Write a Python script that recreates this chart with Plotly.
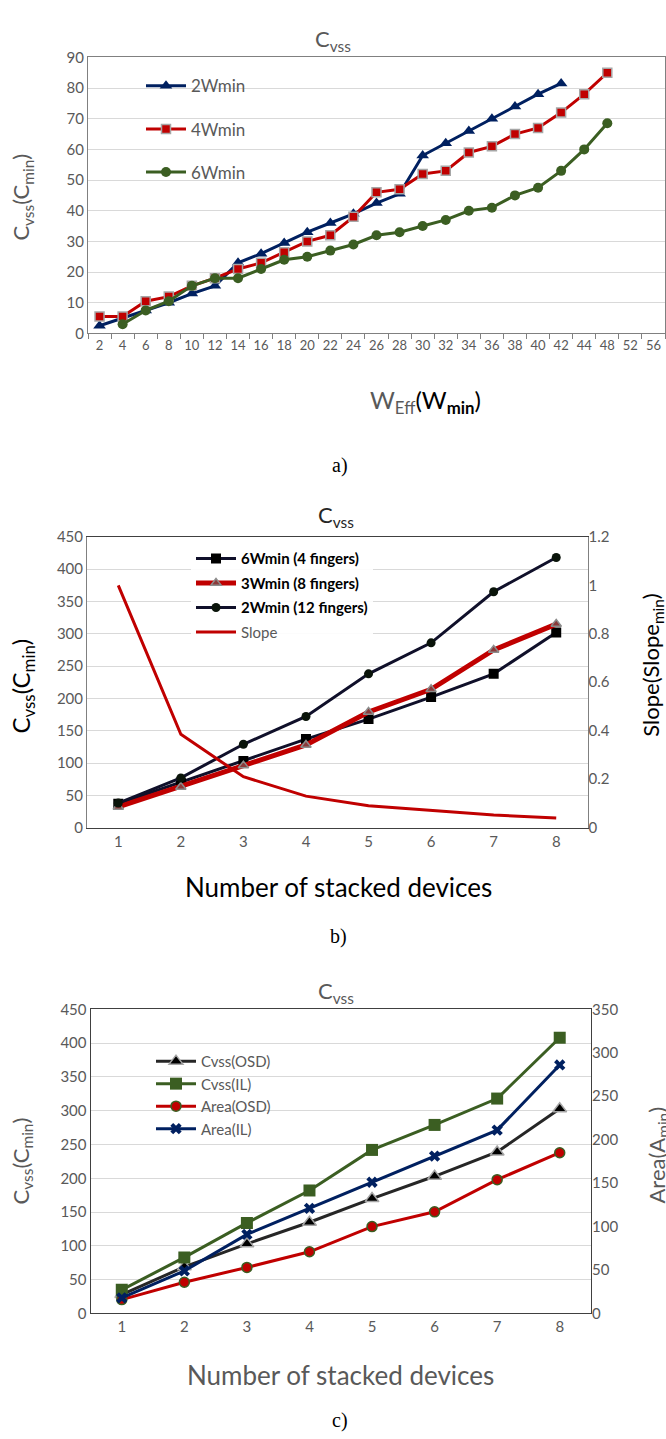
import plotly.graph_objects as go

# ---------------- data ----------------
# (a)
a_cats = ["2", "4", "6", "8", "10", "12", "14", "16", "18", "20", "22", "24", "26",
          "28", "30", "32", "34", "36", "38", "40", "42", "44", "48", "52", "56"]
a_2w_x = a_cats[0:21]
a_2w = [2.5, 5, 7.5, 10, 13, 15.5, 23, 26, 29.5, 33, 36, 39, 42.5, 45.5, 58, 62, 66, 70, 74, 78, 81.5]
a_4w_x = a_cats[0:23]
a_4w = [5.5, 5.5, 10.5, 12, 15.5, 18, 21, 23, 26.5, 30, 32, 38, 46, 47, 52, 53, 59, 61, 65, 67, 72, 78, 85]
a_6w_x = a_cats[1:23]
a_6w = [3, 7.5, 10.5, 15.5, 18, 18, 21, 24, 25, 27, 29, 32, 33, 35, 37, 40, 41, 45, 47.5, 53, 60, 68.5]

# (b)
b_x = ["1", "2", "3", "4", "5", "6", "7", "8"]
b_6w = [37, 70, 103, 137, 168, 202, 238, 302]
b_3w = [32, 63, 96, 128, 179, 214, 275, 315]
b_2w = [38, 77, 129, 172, 238, 286, 365, 418]
b_slope = [1.0, 0.385, 0.21, 0.13, 0.09, 0.07, 0.052, 0.04]

# (c)
c_x = ["1", "2", "3", "4", "5", "6", "7", "8"]
c_cvss_osd = [28, 69, 103, 135, 170, 203, 239, 303]
c_cvss_il = [35, 83, 134, 182, 242, 279, 318, 408]
c_area_osd = [16, 36, 53, 71, 100, 117, 154, 185]
c_area_il = [18, 49, 91, 121, 151, 181, 211, 286]

W, H = 666, 1439
FONT = "Lato"
GRAY = "#595959"
GRID = "#d9d9d9"


def px(x):
    return x / W


def py(y):
    return 1 - y / H


fig = go.Figure()

# ---------------- (a) traces ----------------
fig.add_trace(go.Scatter(x=a_2w_x, y=a_2w, name="2Wmin", mode="lines+markers",
                         line=dict(color="#002060", width=3),
                         marker=dict(symbol="triangle-up", size=11, color="#002060"),
                         xaxis="x", yaxis="y", legend="legend", legendgroup="a1"))
fig.add_trace(go.Scatter(x=a_4w_x, y=a_4w, name="4Wmin", mode="lines+markers",
                         line=dict(color="#c00000", width=3),
                         marker=dict(symbol="square", size=9, color="#c00000",
                                     line=dict(color="#a6a6a6", width=1.5)),
                         xaxis="x", yaxis="y", legend="legend", legendgroup="a2"))
fig.add_trace(go.Scatter(x=a_6w_x, y=a_6w, name="6Wmin", mode="lines+markers",
                         line=dict(color="#3b5e22", width=3),
                         marker=dict(symbol="circle", size=10, color="#3b5e22"),
                         xaxis="x", yaxis="y", legend="legend", legendgroup="a3"))

# ---------------- (b) traces ----------------
fig.add_trace(go.Scatter(x=b_x, y=b_6w, name="<b>6Wmin (4 fingers)</b>", mode="lines+markers",
                         line=dict(color="#10102a", width=3),
                         marker=dict(symbol="square", size=10, color="#000000"),
                         xaxis="x2", yaxis="y3", legend="legend2", legendgroup="b1"))
fig.add_trace(go.Scatter(x=b_x, y=b_3w, name="<b>3Wmin (8 fingers)</b>", mode="lines+markers",
                         line=dict(color="#c00000", width=5),
                         marker=dict(symbol="triangle-up", size=9, color="#8b3a3a",
                                     line=dict(color="#8c8c8c", width=1.5)),
                         xaxis="x2", yaxis="y3", legend="legend2", legendgroup="b2"))
fig.add_trace(go.Scatter(x=b_x, y=b_2w, name="<b>2Wmin (12 fingers)</b>", mode="lines+markers",
                         line=dict(color="#10102a", width=3),
                         marker=dict(symbol="circle", size=9, color="#0a140a"),
                         xaxis="x2", yaxis="y3", legend="legend2", legendgroup="b3"))
fig.add_trace(go.Scatter(x=b_x, y=b_slope, name="<span style='color:#595959'>Slope</span>",
                         mode="lines",
                         line=dict(color="#c00000", width=3),
                         xaxis="x2", yaxis="y4", legend="legend2", legendgroup="b4"))

# ---------------- (c) traces ----------------
fig.add_trace(go.Scatter(x=c_x, y=c_cvss_osd, name="Cvss(OSD)", mode="lines+markers",
                         line=dict(color="#262626", width=3),
                         marker=dict(symbol="triangle-up", size=12, color="#000000",
                                     line=dict(color="#a6a6a6", width=1.5)),
                         xaxis="x3", yaxis="y5", legend="legend3", legendgroup="c1"))
fig.add_trace(go.Scatter(x=c_x, y=c_cvss_il, name="Cvss(IL)", mode="lines+markers",
                         line=dict(color="#3b5e22", width=3),
                         marker=dict(symbol="square", size=12, color="#3b5e22"),
                         xaxis="x3", yaxis="y5", legend="legend3", legendgroup="c2"))
fig.add_trace(go.Scatter(x=c_x, y=c_area_osd, name="Area(OSD)", mode="lines+markers",
                         line=dict(color="#c00000", width=3),
                         marker=dict(symbol="circle", size=10, color="#c00000",
                                     line=dict(color="#3b5e22", width=1.5)),
                         xaxis="x3", yaxis="y6", legend="legend3", legendgroup="c3"))
fig.add_trace(go.Scatter(x=c_x, y=c_area_il, name="Area(IL)", mode="lines+markers",
                         line=dict(color="#002060", width=3),
                         marker=dict(symbol="x", size=10, color="#002060"),
                         xaxis="x3", yaxis="y6", legend="legend3", legendgroup="c4"))

tick_font = dict(family=FONT, size=15, color=GRAY)

fig.update_layout(
    width=W, height=H,
    margin=dict(l=0, r=0, t=0, b=0),
    paper_bgcolor="white", plot_bgcolor="white",
    font=dict(family=FONT, color=GRAY),
    # ---- (a) axes ----
    xaxis=dict(domain=[px(88), px(665)], anchor="y", type="category",
               categoryorder="array", categoryarray=a_cats, range=[-0.5, 24.5],
               showline=True, linecolor="#808080", linewidth=1, mirror=True,
               ticks="outside", tickson="boundaries", ticklen=5, tickcolor="#808080",
               tickangle=0,
               tickfont=dict(family=FONT, size=13, color=GRAY), showgrid=False),
    yaxis=dict(domain=[py(327.5), py(48)], anchor="x", range=[0, 90], dtick=10,
               showline=True, linecolor="#808080", linewidth=1, mirror=True,
               gridcolor=GRID, gridwidth=1, tickfont=tick_font, zeroline=False),
    # ---- (b) axes ----
    xaxis2=dict(domain=[px(87), px(587.5)], anchor="y3", type="category",
                categoryorder="array", categoryarray=b_x, range=[-0.5, 7.5],
                showline=True, linecolor="#404040", linewidth=1, mirror=True,
                ticks="", tickangle=0, tickfont=tick_font, showgrid=False),
    yaxis3=dict(domain=[py(828), py(533.5)], anchor="x2", range=[0, 450], dtick=50,
                showline=True, linecolor="#808080", linewidth=1, mirror=True,
                gridcolor=GRID, tickfont=tick_font, zeroline=False),
    yaxis4=dict(overlaying="y3", side="right", anchor="x2", range=[0, 1.2], dtick=0.2,
                showgrid=False, showline=False, tickfont=tick_font, zeroline=False),
    # ---- (c) axes ----
    xaxis3=dict(domain=[px(90.5), px(591)], anchor="y5", type="category",
                categoryorder="array", categoryarray=c_x, range=[-0.5, 7.5],
                showline=True, linecolor="#404040", linewidth=1, mirror=True,
                ticks="", tickangle=0, tickfont=tick_font, showgrid=False),
    yaxis5=dict(domain=[py(1320), py(1012)], anchor="x3", range=[0, 450], dtick=50,
                showline=True, linecolor="#404040", linewidth=1, mirror=True,
                gridcolor=GRID, tickfont=tick_font, zeroline=False),
    yaxis6=dict(overlaying="y5", side="right", anchor="x3", range=[0, 350], dtick=50,
                showgrid=False, showline=False, tickfont=tick_font, zeroline=False),
    # ---- legends ----
    legend=dict(x=px(141), y=py(59), xanchor="left", yanchor="top",
                bgcolor="rgba(0,0,0,0)", itemwidth=40, tracegroupgap=18,
                font=dict(family=FONT, size=17, color=GRAY)),
    legend2=dict(x=px(191), y=py(539), xanchor="left", yanchor="top",
                 bgcolor="rgba(255,255,255,0.9)", itemwidth=40, tracegroupgap=2,
                 font=dict(family=FONT, size=15, color="#000000")),
    legend3=dict(x=px(151), y=py(1048), xanchor="left", yanchor="top",
                 bgcolor="rgba(0,0,0,0)", itemwidth=40, tracegroupgap=0,
                 font=dict(family=FONT, size=15, color=GRAY)),
)

ann = []


def add_text(x, y, text, size, color=GRAY, family=FONT, angle=0):
    ann.append(dict(x=px(x), y=py(y), xref="paper", yref="paper", text=text,
                    showarrow=False, xanchor="center", yanchor="middle",
                    textangle=angle, font=dict(family=family, size=size, color=color)))


# (a)
add_text(333, 30, "C<sub>vss</sub>", 22)
add_text(22, 190, "C<sub>vss</sub>(C<sub>min</sub>)", 22, angle=-90)
add_text(425, 396, "W<sub>Eff</sub><span style='color:#000000'>(W<sub><b>min</b></sub>)</span>", 24)
add_text(340, 461, "a)", 20, color="#000000", family="Liberation Serif")
# (b)
add_text(336, 512, "C<sub>vss</sub>", 22, color="#262626")
add_text(22, 685, "C<sub>vss</sub>(C<sub>min</sub>)", 24, color="#000000", angle=-90)
add_text(652, 664, "Slope(Slope<sub>min</sub>)", 22, color="#000000", angle=-90)
add_text(338, 888, "Number of stacked devices", 26, color="#000000")
add_text(338, 938, "b)", 20, color="#000000", family="Liberation Serif")
# (c)
add_text(336, 994, "C<sub>vss</sub>", 22)
add_text(22, 1166, "C<sub>vss</sub>(C<sub>min</sub>)", 22, angle=-90)
add_text(658, 1160, "Area(A<sub>min</sub>)", 22, angle=-90)
add_text(340, 1382, "Number of stacked devices", 26)
add_text(340, 1428, "c)", 20, color="#000000", family="Liberation Serif")

fig.update_layout(annotations=ann)

fig.write_html("out.html",
               config={"displayModeBar": False},
               post_script="document.body.style.margin='0';document.body.style.overflow='hidden';")
